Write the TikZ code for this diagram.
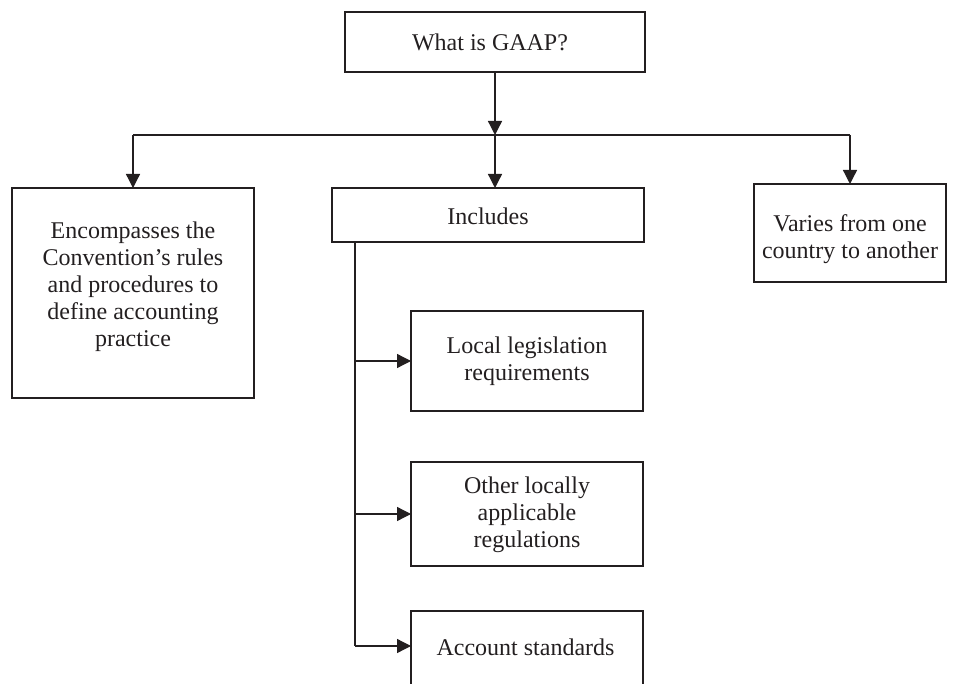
\documentclass[tikz,border=0pt]{standalone}
\usepackage{fontspec}
\setmainfont{Liberation Serif}
\usetikzlibrary{arrows.meta}
\definecolor{ink}{RGB}{35,31,32}
\begin{document}
\begin{tikzpicture}[x=1pt,y=-1pt,
  box/.style={draw=ink, line width=1.3pt, rectangle, inner sep=0pt, outer sep=0pt},
  lbl/.style={align=center, inner sep=0pt, text=ink,
    font=\fontsize{24}{27}\selectfont},
  link/.style={draw=ink, line width=1.3pt},
  arr/.style={link, -{Triangle[length=14pt,width=14pt]}}]
  \useasboundingbox (0,0) rectangle (963,684);
  \clip (0,0) rectangle (963,684);

  % boxes
  \node[box, minimum width=300, minimum height=60]  (q)   at (495,42)    {};
  \node[box, minimum width=242, minimum height=210] (enc) at (133,293)   {};
  \node[box, minimum width=312, minimum height=54]  (inc) at (488,215)   {};
  \node[box, minimum width=192, minimum height=98]  (var) at (850,233)   {};
  \node[box, minimum width=232, minimum height=100] (loc) at (527,361)   {};
  \node[box, minimum width=232, minimum height=104] (oth) at (527,514)   {};
  \node[box, minimum width=232, minimum height=100] (acc) at (527,661)   {};

  % texts
  \node[lbl] (qT)   at (490,42)    {What is GAAP?};
  \node[lbl] (encT) at (133,287)
    {Encompasses the\\Convention's rules\\and procedures to\\define accounting\\practice};
  \node[lbl] (incT) at (488,216)   {Includes};
  \node[lbl] (varT) at (850,239)   {Varies from one\\country to another};
  \node[lbl] (locT) at (527,361)   {Local legislation\\requirements};
  \node[lbl] (othT) at (527,514.5) {Other locally\\applicable\\regulations};
  \node[lbl] (accT) at (525.5,647) {Account standards};

  % distribution bus
  \coordinate (busL) at (133,135);
  \coordinate (busM) at (495,135);
  \coordinate (busR) at (850,135);
  \draw[arr] (q.south) -- (busM);
  \draw[link] (busL) -- (busR);
  \draw[arr] (busL) -- (enc.north);
  \draw[arr] (busM) -- (busM |- inc.north);
  \draw[arr] (busR) -- (var.north);

  % spine under "Includes"
  \coordinate (sp) at (355,242);
  \coordinate (spEnd) at (355,646);
  \draw[link] (sp) -- (spEnd);
  \draw[arr] (sp |- loc.west) -- (loc.west);
  \draw[arr] (sp |- oth.west) -- (oth.west);
  \draw[arr] (spEnd) -- (spEnd -| acc.west);
\end{tikzpicture}
\end{document}
